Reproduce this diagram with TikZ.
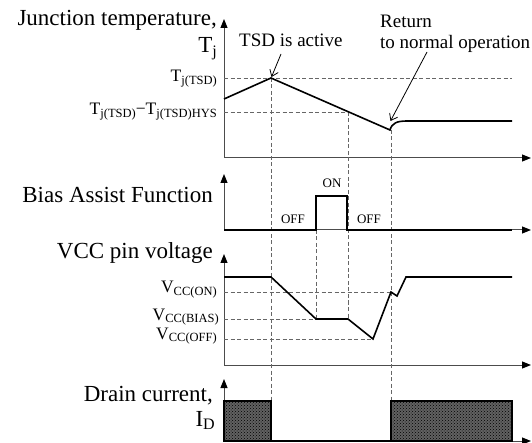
\documentclass[tikz,border=0pt]{standalone}
\usepackage{fontspec}
\setmainfont{Liberation Serif}
\usetikzlibrary{arrows.meta,patterns}
\newcommand\ls[1]{\raisebox{-2.5pt}{\fontsize{12.5}{12.5}\selectfont #1}}
\newcommand\lsb[1]{\raisebox{-3.5pt}{\fontsize{16}{16}\selectfont #1}}
\tikzset{
  hd/.style={inner sep=0pt, font=\fontsize{23}{26}\selectfont},
  tick/.style={inner sep=0pt, anchor=base east, font=\fontsize{17.5}{19}\selectfont},
  note/.style={inner sep=0pt, anchor=base west, font=\fontsize{19}{21}\selectfont},
  st/.style={inner sep=0pt, anchor=base, font=\fontsize{13}{14}\selectfont},
  axis/.style={draw=black!70, line width=1pt, -{Triangle[length=9pt,width=7pt,color=black]}},
  sig/.style={draw=black, line width=1.6pt, line join=miter},
  dsh/.style={draw=black!60, line width=0.8pt, dash pattern=on 4pt off 2.5pt},
  ann/.style={draw=black, line width=0.8pt, -{Straight Barb[length=6pt,width=9pt]}},
  blk/.style={fill=black!62, draw=black, line width=1.2pt},
}
\begin{document}
\begin{tikzpicture}[x=1pt,y=-1pt]
\useasboundingbox (0,0) rectangle (532,443);

% ---------- axes ----------
\coordinate (o1) at (224,158);
\coordinate (o2) at (224,230);
\coordinate (o3) at (224,365);
\coordinate (o4) at (224,441);
\draw[axis] (o1) -- (224,19);
\draw[axis] (o1) -- (531,158);
\draw[axis] (o2) -- (224,174);
\draw[axis] (o2) -- (531,230);
\draw[axis] (o3) -- (224,254);
\draw[axis] (o3) -- (531,365);
\draw[axis] (o4) -- (224,379);
\draw[axis] (o4) -- (531,441);

% ---------- dashed guides ----------
\draw[dsh] (224,78) -- (512,78);
\draw[dsh] (224,112) -- (348,112);
\draw[dsh] (271,78) -- (271,401);
\draw[dsh] (348,112) -- (348,319);
\draw[dsh] (391,130) -- (391,401);
\draw[dsh] (316,230) -- (316,319);
\draw[dsh] (224,292) -- (391,292);
\draw[dsh] (224,319) -- (316,319);
\draw[dsh] (224,339) -- (373,339);

% ---------- signals ----------
% junction temperature
\coordinate (pk) at (271,78);
\coordinate (mn) at (390,130);
\draw[sig] (224,99) -- (pk) -- (mn) .. controls (392,123) and (397,121) .. (407,121) -- (512,121);
% bias assist
\draw[sig] (224,230) -- (316,230) -- (316,196) -- (347,196) -- (347,230) -- (512,230);
% VCC
\draw[sig] (224,277) -- (271,277) -- (316,319) -- (348,319) -- (373,339) -- (391,292) -- (397,296) -- (406,277) -- (512,277);
% drain current
\draw[blk] (224,401) rectangle (271,441);
\fill[pattern=crosshatch dots, pattern color=black] (224,401) rectangle (271,441);
\draw[black, line width=1.2pt] (224,401) rectangle (271,441);
\draw[blk] (391,401) rectangle (512,441);
\fill[pattern=crosshatch dots, pattern color=black] (391,401) rectangle (512,441);
\draw[black, line width=1.2pt] (391,401) rectangle (512,441);
\draw[sig] (271,441) -- (391,441);

% ---------- headings ----------
\node[hd, anchor=base east] (hj) at (217,26) {Junction temperature,};
\node[hd, anchor=base east] (htj) at (217,53) {T\lsb{j}};
\node[hd, anchor=base east] (hb) at (213,203) {Bias Assist Function};
\node[hd, anchor=base east] (hv) at (213,259) {VCC pin voltage};
\node[hd, anchor=base east] (hd1) at (213,401) {Drain current,};
\node[hd, anchor=base east] (hd2) at (215,426) {I\lsb{D}};

% ---------- tick labels ----------
\node[tick] (t1) at (217,82) {T\ls{j(TSD)}};
\node[tick] (t2) at (217,115) {T\ls{j(TSD)}−T\ls{j(TSD)HYS}};
\node[tick] (v1) at (217,293) {V\ls{CC(ON)}};
\node[tick] (v2) at (219,320) {V\ls{CC(BIAS)}};
\node[tick] (v3) at (217,339) {V\ls{CC(OFF)}};

% ---------- state labels ----------
\node[st] (on) at (332,188) {ON};
\node[st] (off1) at (293,224) {OFF};
\node[st] (off2) at (369,224) {OFF};

% ---------- annotations ----------
\node[note] (tsd) at (239,47) {TSD is active};
\node[note] (ret1) at (380,28) {Return};
\node[note] (ret2) at (380,49) {to normal operation};
\coordinate (a1) at (281,54);
\coordinate (a2) at (427,52);
\draw[ann] (a1) -- (271.5,77);
\draw[ann] (a2) -- (390.5,121);
\end{tikzpicture}
\end{document}
